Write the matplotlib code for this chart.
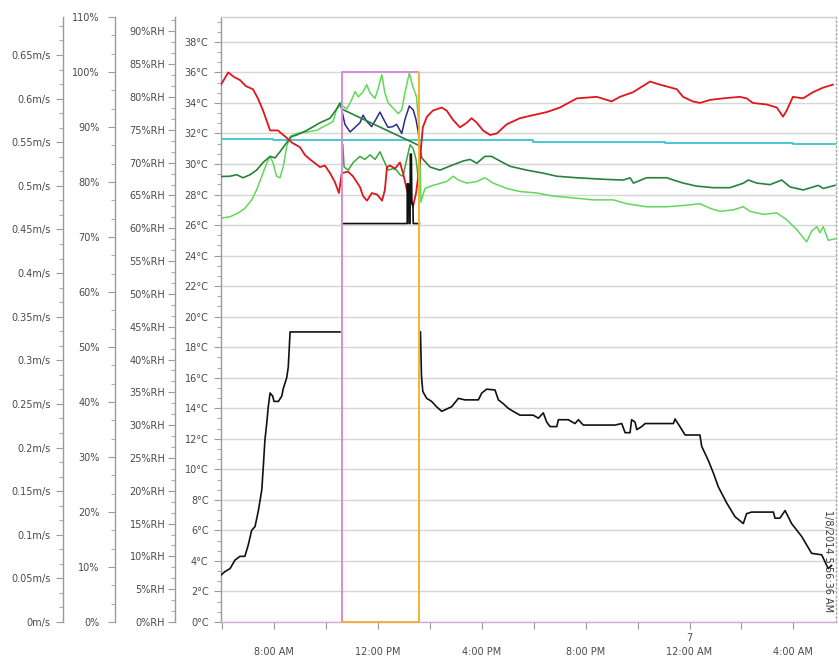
import matplotlib
matplotlib.use("Agg")
import matplotlib.pyplot as plt
from matplotlib.ticker import MultipleLocator, FuncFormatter, FixedLocator
import numpy as np

plt.rcParams['font.family'] = ['DejaVu Sans', 'Noto Sans']

nan = np.nan

# ---- time axis: hours since midnight of the first day (values > 24 belong to day 7)
x_tick_hours = [8, 12, 16, 20, 24, 28]
x_tick_labels = ["\n8:00 AM", "\n12:00 PM", "\n4:00 PM", "\n8:00 PM", "7\n12:00 AM", "\n4:00 AM"]
x_minor_hours = [6, 10, 14, 18, 22, 26]
stamp_text = "1/8/2014 5:56:36 AM"

# ---- selected logging window
window_start, window_end, window_top = 10.61, 13.60, 36.0

# ---- red channel (°C)
red_t = [5.96, 6.24, 6.46, 6.69, 6.92, 7.19, 7.38, 7.58, 7.85, 8.15, 8.50, 8.69, 9.00, 9.19,
         9.39, 9.77, 9.96, 10.16, 10.35, 10.50, 10.61, 10.85, 11.04, 11.31, 11.43, 11.58,
         11.77, 11.97, 12.16, 12.27, 12.35, 12.47, 12.66, 12.85, 12.97, 13.12, 13.24, 13.35,
         13.47, 13.58, 13.66, 13.73, 13.89, 14.12, 14.46, 14.65, 14.89, 15.16, 15.42, 15.61,
         15.81, 16.05, 16.32, 16.58, 16.96, 17.47, 17.97, 18.50, 19.01, 19.66, 20.43, 21.00,
         21.32, 21.82, 22.48, 22.86, 23.51, 23.75, 24.13, 24.40, 24.79, 25.29, 25.94, 26.20,
         26.44, 26.97, 27.36, 27.60, 27.74, 27.98, 28.37, 28.75, 29.14, 29.52]
red_v = [35.2, 36.0, 35.7, 35.5, 35.1, 34.9, 34.3, 33.5, 32.2, 32.2, 31.7, 31.4, 31.1, 30.6,
         30.3, 29.8, 29.9, 29.4, 28.8, 28.1, 29.4, 29.5, 29.2, 28.5, 27.9, 27.6,
         28.1, 28.0, 27.6, 28.3, 29.8, 29.9, 29.7, 30.1, 29.4, 28.3, 27.9, 27.2,
         28.1, 29.5, 31.0, 32.4, 33.1, 33.5, 33.7, 33.5, 32.9, 32.4, 32.7, 33.0,
         32.7, 32.2, 31.9, 32.0, 32.6, 33.0, 33.2, 33.4, 33.7, 34.3, 34.4, 34.1,
         34.4, 34.7, 35.4, 35.2, 34.9, 34.4, 34.1, 34.0, 34.2, 34.3, 34.4, 34.3,
         34.0, 33.9, 33.7, 33.1, 33.5, 34.4, 34.3, 34.7, 35.0, 35.2]

# ---- cyan channel (stepped)
cyan_t = [5.96, 7.96, 17.97, 23.06, 27.98, 29.64]
cyan_v = [31.66, 31.58, 31.47, 31.38, 31.30, 31.30]

# ---- dark green channel (gap inside the window)
dkgreen_t = [5.96, 6.31, 6.56, 6.81, 7.08, 7.33, 7.58, 7.85, 8.04, 8.23, 8.49, 8.68, 8.87,
             9.26, 9.77, 10.16, 10.41, 10.54, 10.61,
             13.60, 13.69, 14.01, 14.39, 14.90, 15.29, 15.55, 15.81, 16.12, 16.38, 16.70,
             17.09, 17.73, 18.37, 18.89, 19.66, 20.68, 21.45, 21.71, 21.84, 22.35, 23.12,
             23.38, 23.76, 24.28, 24.92, 25.56, 26.08, 26.26, 26.59, 27.10, 27.55, 27.87,
             28.38, 28.96, 29.15, 29.60]
dkgreen_v = [29.18, 29.2, 29.3, 29.1, 29.3, 29.6, 30.1, 30.5, 30.4, 30.8, 31.4, 31.8, 31.9,
             32.2, 32.7, 33.0, 33.6, 34.0, 33.6,
             31.2, 30.4, 29.8, 29.6, 29.95, 30.2, 30.3, 30.05, 30.5, 30.5, 30.2,
             29.85, 29.6, 29.4, 29.2, 29.1, 29.0, 28.95, 29.1, 28.75, 29.1, 29.1,
             28.95, 28.75, 28.55, 28.45, 28.45, 28.75, 28.95, 28.75, 28.65, 28.95, 28.5,
             28.3, 28.6, 28.4, 28.6]

# ---- blue channel (inside the window)
blue_t = [10.61, 10.73, 10.93, 11.12, 11.31, 11.43, 11.57, 11.76, 11.95, 12.08, 12.20, 12.39,
          12.58, 12.72, 12.92, 13.04, 13.21, 13.36, 13.47, 13.56, 13.60]
blue_v = [33.55, 32.6, 32.1, 32.4, 32.7, 33.2, 32.8, 32.45, 33.0, 33.4, 33.0, 32.4,
          32.45, 32.6, 32.0, 32.9, 33.8, 33.55, 32.9, 32.05, 31.2]

# ---- light green channel
ltgreen_t = [5.96, 6.31, 6.63, 6.88, 7.14, 7.33, 7.53, 7.72, 7.85, 7.97, 8.10, 8.23, 8.36,
             8.49, 8.62, 8.87, 9.26, 9.64, 9.90, 10.09, 10.28, 10.41, 10.54,
             10.65, 10.80, 10.99, 11.12, 11.25, 11.44, 11.57, 11.70, 11.89, 12.02, 12.15,
             12.27, 12.40, 12.59, 12.79, 12.92, 13.04, 13.21, 13.36, 13.49, 13.58, 13.62,
             13.66, 13.81, 14.12, 14.65, 14.90, 15.10, 15.42, 15.81, 16.12, 16.44, 16.96,
             17.47, 18.12, 18.76, 19.40, 20.30, 21.07, 21.58, 22.35, 23.12, 23.89, 24.40,
             24.79, 25.17, 25.69, 26.07, 26.33, 26.85, 27.36, 27.74, 28.13, 28.51, 28.70,
             28.90, 29.02, 29.15, 29.34, 29.60]
ltgreen_v = [26.45, 26.55, 26.8, 27.1, 27.65, 28.3, 29.2, 30.05, 30.5, 30.05, 29.2, 29.1, 29.85,
             31.15, 31.8, 32.0, 32.1, 32.2, 32.45, 32.6, 32.8, 33.6, 33.8,
             33.8, 33.6, 34.2, 34.75, 34.4, 34.75, 35.2, 34.65, 34.3, 35.0, 35.85,
             34.65, 34.0, 33.65, 33.3, 33.55, 34.65, 35.95, 35.0, 34.4, 32.45, 30.9,
             27.5, 28.4, 28.6, 28.85, 29.2, 28.95, 28.75, 28.85, 29.1, 28.75, 28.4,
             28.2, 28.1, 27.9, 27.8, 27.65, 27.65, 27.4, 27.2, 27.2, 27.3, 27.4,
             27.1, 26.9, 27.0, 27.2, 26.9, 26.7, 26.8, 26.35, 25.7, 24.9, 25.6,
             25.9, 25.5, 25.9, 25.0, 25.1]

# ---- mid green channel (inside the window)
midgreen_t = [10.65, 10.70, 10.86, 11.05, 11.31, 11.50, 11.70, 11.89, 12.08, 12.21, 12.40,
              12.59, 12.72, 12.85, 12.97, 13.11, 13.24, 13.36, 13.47, 13.56]
midgreen_v = [31.26, 29.8, 29.6, 30.1, 30.5, 30.3, 30.6, 30.3, 30.8, 30.3, 29.6,
              29.7, 29.6, 29.3, 29.2, 30.3, 31.26, 31.0, 30.3, 29.0]

# ---- black channel (°C); NaN marks the breaks at the window edges
black_t = [5.96, 6.11, 6.31, 6.50, 6.69, 6.88, 7.01, 7.14, 7.27, 7.40, 7.53, 7.59, 7.65, 7.72,
           7.78, 7.85, 7.95, 8.00, 8.17, 8.30, 8.36, 8.49, 8.55, 8.59, 8.62, 10.54, nan,
           10.61, 13.13, 13.13, 13.18, 13.20, 13.24, 13.25, 13.29, 13.31, 13.35, 13.36, 13.60, nan,
           13.64, 13.68, 13.73, 13.88, 14.07, 14.26, 14.46, 14.65, 14.84, 15.10, 15.35, 15.87,
           16.00, 16.19, 16.51, 16.64, 16.83, 17.02, 17.21, 17.47, 17.98, 18.18, 18.37, 18.50,
           18.63, 18.89, 18.95, 19.33, 19.59, 19.72, 19.91, 21.13, 21.39, 21.52, 21.71, 21.77,
           21.90, 21.97, 22.16, 22.29, 23.38, 23.44, 23.63, 23.83, 24.40, 24.47, 24.72, 24.92,
           25.11, 25.43, 25.75, 26.07, 26.20, 26.39, 27.23, 27.29, 27.48, 27.68, 27.93, 28.32,
           28.70, 29.09, 29.34, 29.47]
black_v = [3.08, 3.3, 3.5, 4.06, 4.3, 4.3, 5.05, 6.0, 6.25, 7.3, 8.65, 10.2, 11.9, 13.0,
           14.1, 15.0, 14.8, 14.45, 14.45, 14.8, 15.3, 16.0, 16.7, 18.0, 19.0, 19.0, nan,
           26.1, 26.1, 28.7, 28.7, 26.1, 26.1, 30.65, 30.65, 27.4, 27.4, 26.1, 26.1, nan,
           19.0, 16.1, 15.1, 14.65, 14.45, 14.1, 13.8, 13.95, 14.1, 14.65, 14.55, 14.55,
           15.0, 15.25, 15.2, 14.55, 14.3, 14.0, 13.8, 13.55, 13.55, 13.35, 13.7, 13.1,
           12.8, 12.8, 13.25, 13.25, 13.0, 13.25, 12.9, 12.9, 13.0, 12.4, 12.4, 13.25,
           13.1, 12.6, 12.8, 13.0, 13.0, 13.3, 12.8, 12.25, 12.25, 11.5, 10.6, 9.75,
           8.85, 7.8, 6.9, 6.45, 7.1, 7.2, 7.2, 6.8, 6.8, 7.3, 6.45, 5.6,
           4.5, 4.4, 3.5, 3.7]

# ---- extra scales drawn to the left of the temperature scale
temp_range = (0, 39.63)
rh_range = (0, 92.2)
pct_range = (0, 110)
speed_range = (0, 0.6936)
x_range = (5.96, 29.64)

W, H = 839, 659
L, R, B, T = 221, 836, 622, 17
fig = plt.figure(figsize=(W / 100, H / 100), dpi=100)
fig.patch.set_facecolor('white')
ax = fig.add_axes([L / W, 1 - B / H, (R - L) / W, (B - T) / H])

label_color = '#4a4a4a'
axis_color = '#9a9a9a'
fs = 7

ax.set_xlim(*x_range)
ax.set_ylim(*temp_range)
ax.yaxis.set_major_locator(MultipleLocator(2))
ax.yaxis.set_minor_locator(MultipleLocator(2 / 3))
ax.yaxis.set_major_formatter(FuncFormatter(lambda v, p: f"{v:g}°C"))
ax.tick_params(axis='y', which='major', length=5, width=0.8, color=axis_color,
               labelsize=fs, labelcolor=label_color, pad=4)
ax.tick_params(axis='y', which='minor', length=3, width=0.6, color=axis_color)
ax.grid(axis='y', which='major', color='#d6d6d6', lw=1.0, zorder=0)
ax.set_axisbelow(True)

ax.xaxis.set_major_locator(FixedLocator(x_tick_hours))
ax.xaxis.set_minor_locator(FixedLocator(x_minor_hours))
ax.set_xticklabels(x_tick_labels, linespacing=1.45)
ax.tick_params(axis='x', which='major', length=5, width=0.8, color=axis_color,
               labelsize=fs, labelcolor=label_color, pad=3)
ax.tick_params(axis='x', which='minor', length=5, width=0.8, color=axis_color)

ax.spines['left'].set_color(axis_color)
ax.spines['top'].set_color('#d0d0d0')
ax.spines['bottom'].set_color('#d4a8dc')
ax.spines['right'].set_color('#a8a8a8')
ax.spines['right'].set_linestyle((0, (1, 2)))
for s in ax.spines.values():
    s.set_linewidth(1.0)


def side_scale(xpix, lim, major, minor, fmt, pad):
    par = ax.twinx()
    par.set_ylim(*lim)
    for s in par.spines.values():
        s.set_visible(False)
    sp = par.spines['left']
    sp.set_visible(True)
    sp.set_position(('axes', -(L - xpix) / (R - L)))
    sp.set_color(axis_color)
    sp.set_linewidth(1.0)
    par.yaxis.set_ticks_position('left')
    par.yaxis.set_label_position('left')
    par.yaxis.set_major_locator(MultipleLocator(major))
    par.yaxis.set_minor_locator(MultipleLocator(minor))
    par.yaxis.set_major_formatter(FuncFormatter(fmt))
    par.tick_params(axis='y', which='major', length=5, width=0.8, color=axis_color,
                    labelsize=fs, labelcolor=label_color, pad=pad)
    par.tick_params(axis='y', which='minor', length=3, width=0.6, color=axis_color)
    par.patch.set_visible(False)
    return par


side_scale(175, rh_range, 5, 5 / 3, lambda v, p: f"{v:g}%RH", 2)
side_scale(115, pct_range, 10, 10 / 3, lambda v, p: f"{v:g}%", 6)
side_scale(63.3, speed_range, 0.05, 0.05 / 3, lambda v, p: f"{v:g}m/s", 4)

# ---- series
ax.plot(cyan_t, cyan_v, color='#3cc4cf', lw=1.3, drawstyle='steps-post', zorder=3)
ax.plot(ltgreen_t, ltgreen_v, color='#62d85a', lw=1.1, zorder=3)
ax.plot(midgreen_t, midgreen_v, color='#3aa83c', lw=1.1, zorder=3)
ax.plot(blue_t, blue_v, color='#2c2c8e', lw=1.1, zorder=3)
ax.plot(dkgreen_t, dkgreen_v, color='#27823a', lw=1.2, zorder=3)
ax.plot(red_t, red_v, color='#e0161c', lw=1.3, zorder=4)
ax.plot(black_t, black_v, color='#111111', lw=1.2, zorder=4)

# ---- selection window frame
ax.plot([window_start, window_start, window_end], [0, window_top, window_top],
        color='#d58ed8', lw=1.4, zorder=6, solid_capstyle='butt')
ax.plot([window_start, window_end, window_end], [0, 0, window_top],
        color='#f2b234', lw=1.4, zorder=6, solid_capstyle='butt', clip_on=False)

# ---- timestamp at the right edge
fig.text(828 / W, 1 - 561 / H, stamp_text, rotation=270, ha='center', va='center',
         fontsize=fs, color='#3a3a3a')

fig.savefig('out.png', dpi=100, facecolor='white')
